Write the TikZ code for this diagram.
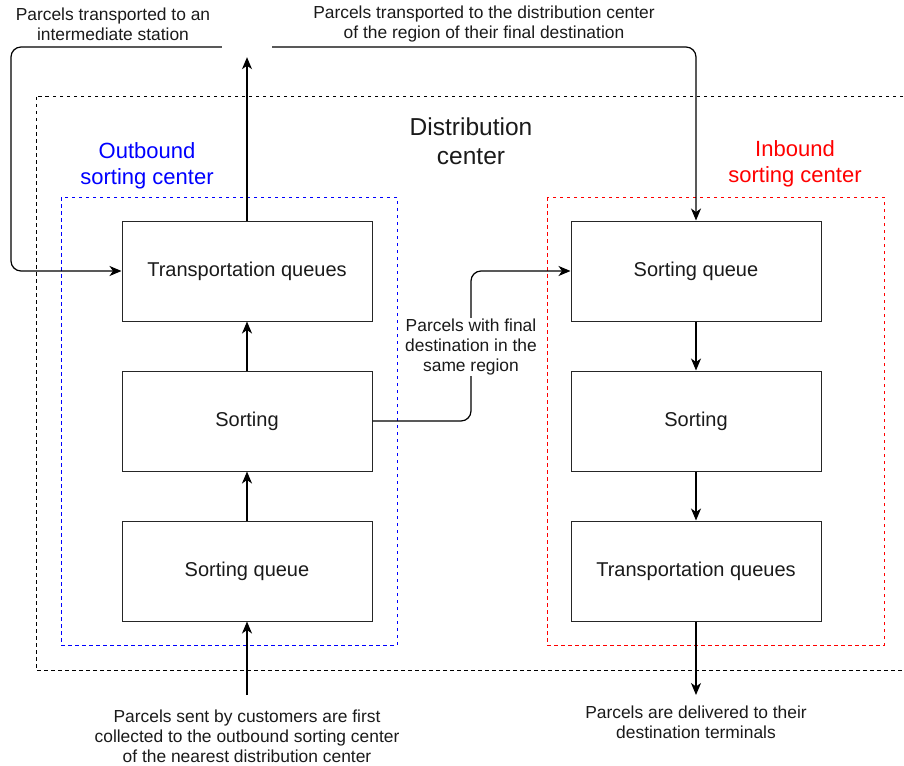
\documentclass[tikz,border=0pt]{standalone}
\usepackage{fontspec}
\setmainfont{Liberation Sans}
\usetikzlibrary{arrows.meta}
\definecolor{txt}{HTML}{1A1A1A}
\tikzset{
  procbox/.style={draw=black!85, line width=1pt, minimum width=250pt, minimum height=100pt, inner sep=0pt, font=\fontsize{20}{24}\selectfont, text=txt},
  flow/.style={draw=black, line width=1.2pt, rounded corners=10pt, -{Stealth[length=12pt,width=10pt,inset=3.5pt]}},
  smalltext/.style={align=center, font=\fontsize{17.4}{20}\selectfont, text=txt, inner sep=1pt},
  dashbox/.style={line width=1pt, dash pattern=on 3.5pt off 3.5pt},
}
\begin{document}
\begin{tikzpicture}[x=1pt,y=-1pt]
\useasboundingbox (0,0) rectangle (904,765);
% containers
\draw[dashbox, black] (36,97) rectangle (915,670);
\draw[dashbox, blue] (61,197) rectangle (397,645);
\draw[dashbox, red] (547,197) rectangle (884,645);
\node[align=center, font=\fontsize{24.5}{29}\selectfont, text=txt] (dc) at (471,141) {Distribution\\center};
\node[align=center, font=\fontsize{22}{26}\selectfont, text=blue] (obl) at (147,166) {Outbound\\sorting center};
\node[align=center, font=\fontsize{22}{26}\selectfont, text=red] (ibl) at (795,164) {Inbound\\sorting center};
% boxes
\node[procbox] (ltq) at (247,271) {Transportation queues};
\node[procbox] (lso) at (247,421) {Sorting};
\node[procbox] (lsq) at (247,571) {Sorting queue};
\node[procbox] (rsq) at (696,271) {Sorting queue};
\node[procbox] (rso) at (696,421) {Sorting};
\node[procbox] (rtq) at (696,571) {Transportation queues};
% top hub
\node[minimum width=50pt, minimum height=20pt, inner sep=0pt] (hub) at (247,47) {};
\node[smalltext] (tl) at (113,24) {Parcels transported to an\\intermediate station};
\node[smalltext] (tr) at (484,24) {Parcels transported to the distribution center\\of the region of their final destination};
\draw[flow] (ltq.north) -- (hub.south);
\draw[flow] (hub.west) -- (11,47) -- (11,271) -- (ltq.west);
\draw[flow] (hub.east) -- (696,47) -- (rsq.north);
% vertical flows
\draw[flow] (lso) -- (ltq);
\draw[flow] (lsq) -- (lso);
\draw[flow] (rsq) -- (rso);
\draw[flow] (rso) -- (rtq);
% middle
\draw[flow] (lso.east) -- (471,421) -- (471,271) -- (rsq.west);
\node[smalltext, fill=white] (mid) at (471,347) {Parcels with final\\destination in the\\same region};
% bottom
\coordinate (inb) at (247,695);
\coordinate (outb) at (696,695);
\draw[flow] (inb) -- (lsq.south);
\draw[flow] (rtq.south) -- (outb);
\node[smalltext] (bl) at (247,736) {Parcels sent by customers are first\\collected to the outbound sorting center\\of the nearest distribution center};
\node[smalltext] (br) at (696,722) {Parcels are delivered to their\\destination terminals};
\end{tikzpicture}
\end{document}
